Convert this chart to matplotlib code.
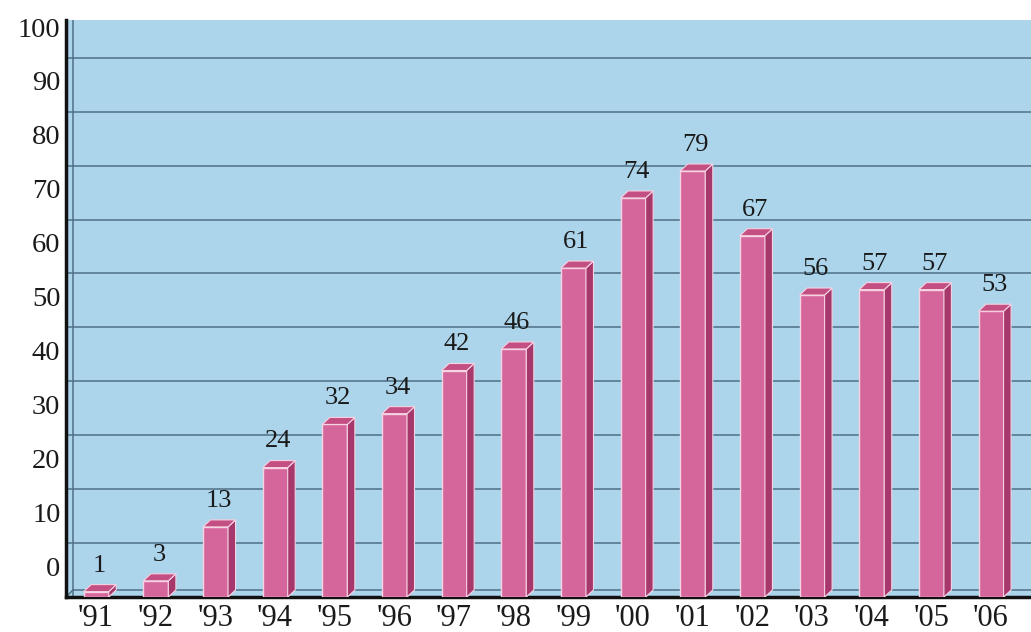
import matplotlib
matplotlib.use("Agg")
import matplotlib.pyplot as plt
from matplotlib.patches import Polygon

years = ["'91", "'92", "'93", "'94", "'95", "'96", "'97", "'98",
         "'99", "'00", "'01", "'02", "'03", "'04", "'05", "'06"]
values = [1, 3, 13, 24, 32, 34, 42, 46, 61, 74, 79, 67, 56, 57, 57, 53]
ytick_values = [0, 10, 20, 30, 40, 50, 60, 70, 80, 90, 100]

plt.rcParams['font.family'] = ['Liberation Serif', 'DejaVu Serif']

fig = plt.figure(figsize=(10.31, 6.32), dpi=100)
ax = fig.add_axes([66/1031, 35/632, 1 - 66/1031, 577/632])

bg = '#acd5ec'
front = '#d4669c'
side = '#a6386c'
top = '#c44f82'
edge = '#f6d3e3'
grid_c = '#4f7085'

ax.set_facecolor(bg)
xmin, xmax = -0.506, 15.67
ax.set_xlim(xmin, xmax)
ax.set_ylim(0, 107)

# gridlines
for v in ytick_values[1:]:
    ax.axhline(v, color=grid_c, lw=1.1, zorder=1)
# back wall / floor edge
wall_x = xmin + 7 / 59.65
ax.axvline(wall_x, color=grid_c, lw=1.1, zorder=1)
ax.plot([wall_x, xmax], [1.3, 1.3], color=grid_c, lw=1.1, zorder=1)
ax.plot([xmin, wall_x], [0, 1.3], color=grid_c, lw=1.1, zorder=1)

w = 0.42
dx = 0.126
dy = 1.3
xs = list(range(len(values)))
ax.bar(xs, values, width=w, color=front, edgecolor=edge, linewidth=1.0, zorder=3)
for x, v in zip(xs, values):
    r = x + w / 2
    l = x - w / 2
    ax.add_patch(Polygon([[r, 0], [r + dx, dy], [r + dx, v + dy], [r, v]],
                         closed=True, facecolor=side, edgecolor=edge, lw=0.8, zorder=3))
    ax.add_patch(Polygon([[l, v], [l + dx, v + dy], [r + dx, v + dy], [r, v]],
                         closed=True, facecolor=top, edgecolor=edge, lw=0.8, zorder=3))
    ax.text(x + 0.05, v + 2.8, str(v), ha='center', va='bottom',
            fontsize=19, color='#1a1a1a', zorder=4)

ax.set_xticks(xs)
ax.set_xticklabels(years, fontsize=22, color='#1a1a1a')
ax.set_yticks([v + 5.7 for v in ytick_values])
ax.set_yticklabels([str(v) for v in ytick_values], fontsize=20.5, color='#1a1a1a')
ax.tick_params(axis='both', length=0)
ax.tick_params(axis='x', pad=5)
ax.tick_params(axis='y', pad=4)

for s in ['top', 'right']:
    ax.spines[s].set_visible(False)
ax.spines['left'].set_linewidth(2.5)
ax.spines['bottom'].set_linewidth(2.5)
ax.spines['left'].set_color('#111111')
ax.spines['bottom'].set_color('#111111')

fig.savefig('out.png', dpi=100)
